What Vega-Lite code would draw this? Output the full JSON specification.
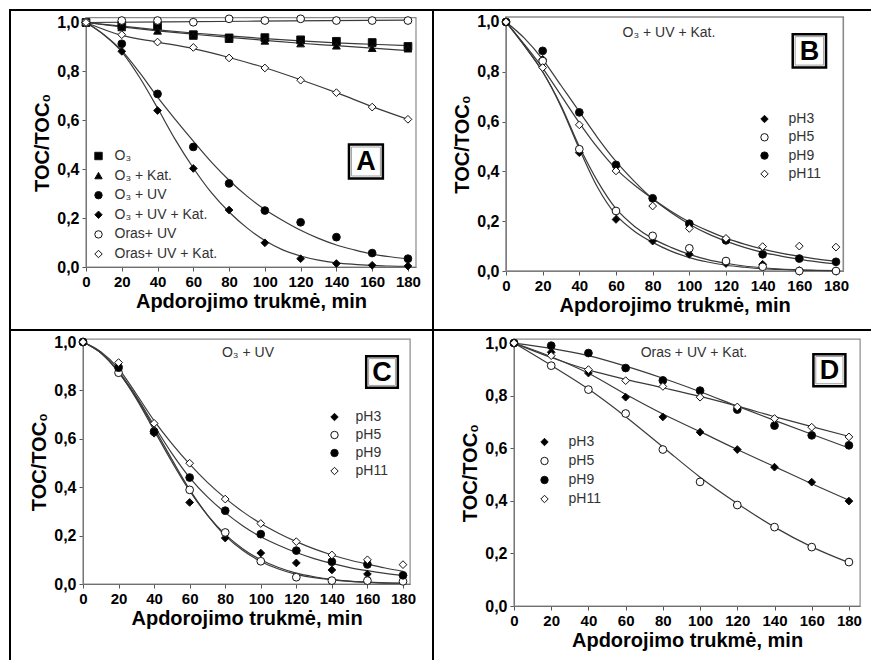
{
  "$schema": "https://vega.github.io/schema/vega-lite/v6.json",
  "padding": {"left": 9, "top": 9, "right": 0, "bottom": 0},
  "background": "white",
  "columns": 2,
  "spacing": 0,
  "bounds": "flush",
  "resolve": {"scale": {"shape": "independent", "fill": "independent", "stroke": "independent"}, "legend": {"shape": "independent", "fill": "independent", "stroke": "independent"}},
  "config": {
    "view": {"stroke": "#000", "strokeWidth": 2},
    "axis": {"grid": false, "domainColor": "#555", "tickColor": "#555", "tickSize": 4, "labelFont": "Liberation Sans", "labelFontWeight": "bold", "labelColor": "#000", "titleFont": "Liberation Sans", "titleFontWeight": "bold", "titleFontSize": 20, "titleColor": "#000", "zindex": 1, "labelFlush": false, "labelOverlap": false},
    "legend": {"labelFont": "Liberation Sans", "labelFontSize": 14, "labelColor": "#333", "padding": 0, "symbolStrokeWidth": 1, "symbolSize": 55}
  },
  "datasets": {
    "A_pts": [
      {"s":"O₃","t":0,"v":1},{"s":"O₃","t":20,"v":0.988},{"s":"O₃","t":40,"v":0.986},{"s":"O₃","t":60,"v":0.95},{"s":"O₃","t":80,"v":0.937},{"s":"O₃","t":100,"v":0.938},{"s":"O₃","t":120,"v":0.929},{"s":"O₃","t":140,"v":0.923},{"s":"O₃","t":160,"v":0.918},{"s":"O₃","t":180,"v":0.902},
      {"s":"O₃ + Kat.","t":0,"v":1},{"s":"O₃ + Kat.","t":20,"v":0.98},{"s":"O₃ + Kat.","t":40,"v":0.966},{"s":"O₃ + Kat.","t":60,"v":0.945},{"s":"O₃ + Kat.","t":80,"v":0.932},{"s":"O₃ + Kat.","t":100,"v":0.925},{"s":"O₃ + Kat.","t":120,"v":0.914},{"s":"O₃ + Kat.","t":140,"v":0.905},{"s":"O₃ + Kat.","t":160,"v":0.895},{"s":"O₃ + Kat.","t":180,"v":0.893},
      {"s":"O₃ + UV","t":0,"v":1},{"s":"O₃ + UV","t":20,"v":0.913},{"s":"O₃ + UV","t":40,"v":0.708},{"s":"O₃ + UV","t":60,"v":0.491},{"s":"O₃ + UV","t":80,"v":0.342},{"s":"O₃ + UV","t":100,"v":0.231},{"s":"O₃ + UV","t":120,"v":0.183},{"s":"O₃ + UV","t":140,"v":0.122},{"s":"O₃ + UV","t":160,"v":0.057},{"s":"O₃ + UV","t":180,"v":0.034},
      {"s":"O₃ + UV + Kat.","t":0,"v":1},{"s":"O₃ + UV + Kat.","t":20,"v":0.882},{"s":"O₃ + UV + Kat.","t":40,"v":0.64},{"s":"O₃ + UV + Kat.","t":60,"v":0.403},{"s":"O₃ + UV + Kat.","t":80,"v":0.233},{"s":"O₃ + UV + Kat.","t":100,"v":0.099},{"s":"O₃ + UV + Kat.","t":120,"v":0.034},{"s":"O₃ + UV + Kat.","t":140,"v":0.014},{"s":"O₃ + UV + Kat.","t":160,"v":0.007},{"s":"O₃ + UV + Kat.","t":180,"v":0.004},
      {"s":"Oras+ UV","t":0,"v":1},{"s":"Oras+ UV","t":20,"v":1.008},{"s":"Oras+ UV","t":40,"v":1.008},{"s":"Oras+ UV","t":60,"v":1.001},{"s":"Oras+ UV","t":80,"v":1.015},{"s":"Oras+ UV","t":100,"v":1.008},{"s":"Oras+ UV","t":120,"v":1.015},{"s":"Oras+ UV","t":140,"v":1.008},{"s":"Oras+ UV","t":160,"v":1.008},{"s":"Oras+ UV","t":180,"v":1.008},
      {"s":"Oras+ UV + Kat.","t":0,"v":1},{"s":"Oras+ UV + Kat.","t":20,"v":0.95},{"s":"Oras+ UV + Kat.","t":40,"v":0.92},{"s":"Oras+ UV + Kat.","t":60,"v":0.898},{"s":"Oras+ UV + Kat.","t":80,"v":0.855},{"s":"Oras+ UV + Kat.","t":100,"v":0.814},{"s":"Oras+ UV + Kat.","t":120,"v":0.764},{"s":"Oras+ UV + Kat.","t":140,"v":0.713},{"s":"Oras+ UV + Kat.","t":160,"v":0.654},{"s":"Oras+ UV + Kat.","t":180,"v":0.604}
    ],
    "A_fit": [
      {"s":"a1","t":0,"v":1},{"s":"a1","t":20,"v":0.985},{"s":"a1","t":40,"v":0.97},{"s":"a1","t":60,"v":0.957},{"s":"a1","t":80,"v":0.945},{"s":"a1","t":100,"v":0.934},{"s":"a1","t":120,"v":0.925},{"s":"a1","t":140,"v":0.917},{"s":"a1","t":160,"v":0.911},{"s":"a1","t":180,"v":0.905},
      {"s":"a2","t":0,"v":1},{"s":"a2","t":20,"v":0.982},{"s":"a2","t":40,"v":0.966},{"s":"a2","t":60,"v":0.952},{"s":"a2","t":80,"v":0.939},{"s":"a2","t":100,"v":0.927},{"s":"a2","t":120,"v":0.915},{"s":"a2","t":140,"v":0.905},{"s":"a2","t":160,"v":0.895},{"s":"a2","t":180,"v":0.885},
      {"s":"a3","t":0,"v":1},{"s":"a3","t":10,"v":0.95},{"s":"a3","t":20,"v":0.885},{"s":"a3","t":30,"v":0.795},{"s":"a3","t":40,"v":0.695},{"s":"a3","t":50,"v":0.603},{"s":"a3","t":60,"v":0.515},{"s":"a3","t":70,"v":0.43},{"s":"a3","t":80,"v":0.355},{"s":"a3","t":90,"v":0.29},{"s":"a3","t":100,"v":0.235},{"s":"a3","t":110,"v":0.19},{"s":"a3","t":120,"v":0.15},{"s":"a3","t":130,"v":0.117},{"s":"a3","t":140,"v":0.09},{"s":"a3","t":150,"v":0.07},{"s":"a3","t":160,"v":0.053},{"s":"a3","t":170,"v":0.042},{"s":"a3","t":180,"v":0.034},
      {"s":"a4","t":0,"v":1},{"s":"a4","t":10,"v":0.95},{"s":"a4","t":20,"v":0.88},{"s":"a4","t":30,"v":0.775},{"s":"a4","t":40,"v":0.65},{"s":"a4","t":50,"v":0.52},{"s":"a4","t":60,"v":0.405},{"s":"a4","t":70,"v":0.305},{"s":"a4","t":80,"v":0.225},{"s":"a4","t":90,"v":0.16},{"s":"a4","t":100,"v":0.108},{"s":"a4","t":110,"v":0.07},{"s":"a4","t":120,"v":0.045},{"s":"a4","t":130,"v":0.028},{"s":"a4","t":140,"v":0.017},{"s":"a4","t":150,"v":0.011},{"s":"a4","t":160,"v":0.007},{"s":"a4","t":170,"v":0.004},{"s":"a4","t":180,"v":0.003},
      {"s":"a5","t":0,"v":1},{"s":"a5","t":90,"v":1.005},{"s":"a5","t":180,"v":1.01},
      {"s":"a6","t":0,"v":1},{"s":"a6","t":20,"v":0.947},{"s":"a6","t":40,"v":0.92},{"s":"a6","t":60,"v":0.893},{"s":"a6","t":80,"v":0.857},{"s":"a6","t":100,"v":0.815},{"s":"a6","t":120,"v":0.766},{"s":"a6","t":140,"v":0.713},{"s":"a6","t":160,"v":0.656},{"s":"a6","t":180,"v":0.604}
    ],
    "B_pts": [
      {"s":"pH3","t":0,"v":1},{"s":"pH3","t":20,"v":0.85},{"s":"pH3","t":40,"v":0.475},{"s":"pH3","t":60,"v":0.207},{"s":"pH3","t":80,"v":0.12},{"s":"pH3","t":100,"v":0.067},{"s":"pH3","t":120,"v":0.03},{"s":"pH3","t":140,"v":0.027},{"s":"pH3","t":160,"v":0.002},{"s":"pH3","t":180,"v":0.001},
      {"s":"pH5","t":0,"v":1},{"s":"pH5","t":20,"v":0.843},{"s":"pH5","t":40,"v":0.489},{"s":"pH5","t":60,"v":0.241},{"s":"pH5","t":80,"v":0.141},{"s":"pH5","t":100,"v":0.091},{"s":"pH5","t":120,"v":0.04},{"s":"pH5","t":140,"v":0.017},{"s":"pH5","t":160,"v":0.0},{"s":"pH5","t":180,"v":0.0},
      {"s":"pH9","t":0,"v":1},{"s":"pH9","t":20,"v":0.884},{"s":"pH9","t":40,"v":0.637},{"s":"pH9","t":60,"v":0.426},{"s":"pH9","t":80,"v":0.292},{"s":"pH9","t":100,"v":0.19},{"s":"pH9","t":120,"v":0.123},{"s":"pH9","t":140,"v":0.067},{"s":"pH9","t":160,"v":0.05},{"s":"pH9","t":180,"v":0.037},
      {"s":"pH11","t":0,"v":1},{"s":"pH11","t":20,"v":0.817},{"s":"pH11","t":40,"v":0.587},{"s":"pH11","t":60,"v":0.402},{"s":"pH11","t":80,"v":0.261},{"s":"pH11","t":100,"v":0.171},{"s":"pH11","t":120,"v":0.131},{"s":"pH11","t":140,"v":0.098},{"s":"pH11","t":160,"v":0.1},{"s":"pH11","t":180,"v":0.096}
    ],
    "B_fit": [
      {"s":"b3","t":0,"v":1},{"s":"b3","t":10,"v":0.905},{"s":"b3","t":20,"v":0.8},{"s":"b3","t":30,"v":0.66},{"s":"b3","t":40,"v":0.49},{"s":"b3","t":50,"v":0.335},{"s":"b3","t":60,"v":0.225},{"s":"b3","t":70,"v":0.16},{"s":"b3","t":80,"v":0.115},{"s":"b3","t":90,"v":0.08},{"s":"b3","t":100,"v":0.054},{"s":"b3","t":110,"v":0.036},{"s":"b3","t":120,"v":0.023},{"s":"b3","t":130,"v":0.015},{"s":"b3","t":140,"v":0.009},{"s":"b3","t":150,"v":0.006},{"s":"b3","t":160,"v":0.003},{"s":"b3","t":170,"v":0.002},{"s":"b3","t":180,"v":0.001},
      {"s":"b5","t":0,"v":1},{"s":"b5","t":10,"v":0.905},{"s":"b5","t":20,"v":0.8},{"s":"b5","t":30,"v":0.665},{"s":"b5","t":40,"v":0.5},{"s":"b5","t":50,"v":0.36},{"s":"b5","t":60,"v":0.25},{"s":"b5","t":70,"v":0.18},{"s":"b5","t":80,"v":0.13},{"s":"b5","t":90,"v":0.095},{"s":"b5","t":100,"v":0.067},{"s":"b5","t":110,"v":0.046},{"s":"b5","t":120,"v":0.031},{"s":"b5","t":130,"v":0.02},{"s":"b5","t":140,"v":0.013},{"s":"b5","t":150,"v":0.008},{"s":"b5","t":160,"v":0.005},{"s":"b5","t":170,"v":0.003},{"s":"b5","t":180,"v":0.002},
      {"s":"b9","t":0,"v":1},{"s":"b9","t":10,"v":0.935},{"s":"b9","t":20,"v":0.85},{"s":"b9","t":30,"v":0.745},{"s":"b9","t":40,"v":0.64},{"s":"b9","t":50,"v":0.535},{"s":"b9","t":60,"v":0.44},{"s":"b9","t":70,"v":0.36},{"s":"b9","t":80,"v":0.29},{"s":"b9","t":90,"v":0.235},{"s":"b9","t":100,"v":0.188},{"s":"b9","t":110,"v":0.15},{"s":"b9","t":120,"v":0.12},{"s":"b9","t":130,"v":0.095},{"s":"b9","t":140,"v":0.075},{"s":"b9","t":150,"v":0.06},{"s":"b9","t":160,"v":0.047},{"s":"b9","t":170,"v":0.037},{"s":"b9","t":180,"v":0.029},
      {"s":"b11","t":0,"v":1},{"s":"b11","t":10,"v":0.91},{"s":"b11","t":20,"v":0.815},{"s":"b11","t":30,"v":0.705},{"s":"b11","t":40,"v":0.595},{"s":"b11","t":50,"v":0.495},{"s":"b11","t":60,"v":0.41},{"s":"b11","t":70,"v":0.345},{"s":"b11","t":80,"v":0.29},{"s":"b11","t":90,"v":0.24},{"s":"b11","t":100,"v":0.197},{"s":"b11","t":110,"v":0.162},{"s":"b11","t":120,"v":0.132},{"s":"b11","t":130,"v":0.108},{"s":"b11","t":140,"v":0.088},{"s":"b11","t":150,"v":0.072},{"s":"b11","t":160,"v":0.059},{"s":"b11","t":170,"v":0.048},{"s":"b11","t":180,"v":0.04}
    ],
    "C_pts": [
      {"s":"pH3","t":0,"v":1},{"s":"pH3","t":20,"v":0.9},{"s":"pH3","t":40,"v":0.623},{"s":"pH3","t":60,"v":0.337},{"s":"pH3","t":80,"v":0.19},{"s":"pH3","t":100,"v":0.128},{"s":"pH3","t":120,"v":0.087},{"s":"pH3","t":140,"v":0.058},{"s":"pH3","t":160,"v":0.041},{"s":"pH3","t":180,"v":0.034},
      {"s":"pH5","t":0,"v":1},{"s":"pH5","t":20,"v":0.873},{"s":"pH5","t":40,"v":0.63},{"s":"pH5","t":60,"v":0.389},{"s":"pH5","t":80,"v":0.213},{"s":"pH5","t":100,"v":0.094},{"s":"pH5","t":120,"v":0.028},{"s":"pH5","t":140,"v":0.014},{"s":"pH5","t":160,"v":0.014},{"s":"pH5","t":180,"v":0.011},
      {"s":"pH9","t":0,"v":1},{"s":"pH9","t":20,"v":0.894},{"s":"pH9","t":40,"v":0.629},{"s":"pH9","t":60,"v":0.44},{"s":"pH9","t":80,"v":0.303},{"s":"pH9","t":100,"v":0.206},{"s":"pH9","t":120,"v":0.138},{"s":"pH9","t":140,"v":0.092},{"s":"pH9","t":160,"v":0.081},{"s":"pH9","t":180,"v":0.036},
      {"s":"pH11","t":0,"v":1},{"s":"pH11","t":20,"v":0.915},{"s":"pH11","t":40,"v":0.664},{"s":"pH11","t":60,"v":0.499},{"s":"pH11","t":80,"v":0.351},{"s":"pH11","t":100,"v":0.25},{"s":"pH11","t":120,"v":0.175},{"s":"pH11","t":140,"v":0.12},{"s":"pH11","t":160,"v":0.1},{"s":"pH11","t":180,"v":0.08}
    ],
    "C_fit": [
      {"s":"c3","t":0,"v":1},{"s":"c3","t":10,"v":0.955},{"s":"c3","t":20,"v":0.875},{"s":"c3","t":30,"v":0.77},{"s":"c3","t":40,"v":0.645},{"s":"c3","t":50,"v":0.515},{"s":"c3","t":60,"v":0.39},{"s":"c3","t":70,"v":0.285},{"s":"c3","t":80,"v":0.2},{"s":"c3","t":90,"v":0.138},{"s":"c3","t":100,"v":0.093},{"s":"c3","t":110,"v":0.062},{"s":"c3","t":120,"v":0.04},{"s":"c3","t":130,"v":0.026},{"s":"c3","t":140,"v":0.017},{"s":"c3","t":150,"v":0.011},{"s":"c3","t":160,"v":0.007},{"s":"c3","t":170,"v":0.004},{"s":"c3","t":180,"v":0.003},
      {"s":"c5","t":0,"v":1},{"s":"c5","t":10,"v":0.955},{"s":"c5","t":20,"v":0.875},{"s":"c5","t":30,"v":0.765},{"s":"c5","t":40,"v":0.635},{"s":"c5","t":50,"v":0.505},{"s":"c5","t":60,"v":0.385},{"s":"c5","t":70,"v":0.285},{"s":"c5","t":80,"v":0.205},{"s":"c5","t":90,"v":0.145},{"s":"c5","t":100,"v":0.1},{"s":"c5","t":110,"v":0.068},{"s":"c5","t":120,"v":0.045},{"s":"c5","t":130,"v":0.03},{"s":"c5","t":140,"v":0.019},{"s":"c5","t":150,"v":0.012},{"s":"c5","t":160,"v":0.008},{"s":"c5","t":170,"v":0.005},{"s":"c5","t":180,"v":0.003},
      {"s":"c9","t":0,"v":1},{"s":"c9","t":10,"v":0.955},{"s":"c9","t":20,"v":0.88},{"s":"c9","t":30,"v":0.775},{"s":"c9","t":40,"v":0.655},{"s":"c9","t":50,"v":0.54},{"s":"c9","t":60,"v":0.44},{"s":"c9","t":70,"v":0.36},{"s":"c9","t":80,"v":0.295},{"s":"c9","t":90,"v":0.24},{"s":"c9","t":100,"v":0.195},{"s":"c9","t":110,"v":0.16},{"s":"c9","t":120,"v":0.13},{"s":"c9","t":130,"v":0.105},{"s":"c9","t":140,"v":0.085},{"s":"c9","t":150,"v":0.068},{"s":"c9","t":160,"v":0.055},{"s":"c9","t":170,"v":0.044},{"s":"c9","t":180,"v":0.035},
      {"s":"c11","t":0,"v":1},{"s":"c11","t":10,"v":0.96},{"s":"c11","t":20,"v":0.89},{"s":"c11","t":30,"v":0.785},{"s":"c11","t":40,"v":0.675},{"s":"c11","t":50,"v":0.58},{"s":"c11","t":60,"v":0.495},{"s":"c11","t":70,"v":0.42},{"s":"c11","t":80,"v":0.355},{"s":"c11","t":90,"v":0.298},{"s":"c11","t":100,"v":0.25},{"s":"c11","t":110,"v":0.21},{"s":"c11","t":120,"v":0.175},{"s":"c11","t":130,"v":0.145},{"s":"c11","t":140,"v":0.12},{"s":"c11","t":150,"v":0.099},{"s":"c11","t":160,"v":0.082},{"s":"c11","t":170,"v":0.066},{"s":"c11","t":180,"v":0.052}
    ],
    "D_pts": [
      {"s":"pH3","t":0,"v":1},{"s":"pH3","t":20,"v":0.965},{"s":"pH3","t":40,"v":0.886},{"s":"pH3","t":60,"v":0.794},{"s":"pH3","t":80,"v":0.719},{"s":"pH3","t":100,"v":0.661},{"s":"pH3","t":120,"v":0.595},{"s":"pH3","t":140,"v":0.528},{"s":"pH3","t":160,"v":0.471},{"s":"pH3","t":180,"v":0.399},
      {"s":"pH5","t":0,"v":1},{"s":"pH5","t":20,"v":0.914},{"s":"pH5","t":40,"v":0.823},{"s":"pH5","t":60,"v":0.732},{"s":"pH5","t":80,"v":0.595},{"s":"pH5","t":100,"v":0.472},{"s":"pH5","t":120,"v":0.384},{"s":"pH5","t":140,"v":0.3},{"s":"pH5","t":160,"v":0.224},{"s":"pH5","t":180,"v":0.167},
      {"s":"pH9","t":0,"v":1},{"s":"pH9","t":20,"v":0.99},{"s":"pH9","t":40,"v":0.962},{"s":"pH9","t":60,"v":0.905},{"s":"pH9","t":80,"v":0.858},{"s":"pH9","t":100,"v":0.819},{"s":"pH9","t":120,"v":0.747},{"s":"pH9","t":140,"v":0.686},{"s":"pH9","t":160,"v":0.649},{"s":"pH9","t":180,"v":0.611},
      {"s":"pH11","t":0,"v":1},{"s":"pH11","t":20,"v":0.952},{"s":"pH11","t":40,"v":0.899},{"s":"pH11","t":60,"v":0.857},{"s":"pH11","t":80,"v":0.835},{"s":"pH11","t":100,"v":0.794},{"s":"pH11","t":120,"v":0.757},{"s":"pH11","t":140,"v":0.713},{"s":"pH11","t":160,"v":0.68},{"s":"pH11","t":180,"v":0.643}
    ],
    "D_fit": [
      {"s":"d3","t":0,"v":1},{"s":"d3","t":20,"v":0.948},{"s":"d3","t":40,"v":0.885},{"s":"d3","t":60,"v":0.805},{"s":"d3","t":80,"v":0.73},{"s":"d3","t":100,"v":0.663},{"s":"d3","t":120,"v":0.595},{"s":"d3","t":140,"v":0.53},{"s":"d3","t":160,"v":0.465},{"s":"d3","t":180,"v":0.402},
      {"s":"d5","t":0,"v":1},{"s":"d5","t":20,"v":0.915},{"s":"d5","t":40,"v":0.825},{"s":"d5","t":60,"v":0.72},{"s":"d5","t":80,"v":0.605},{"s":"d5","t":100,"v":0.49},{"s":"d5","t":120,"v":0.39},{"s":"d5","t":140,"v":0.3},{"s":"d5","t":160,"v":0.225},{"s":"d5","t":180,"v":0.165},
      {"s":"d9","t":0,"v":1},{"s":"d9","t":20,"v":0.98},{"s":"d9","t":40,"v":0.952},{"s":"d9","t":60,"v":0.912},{"s":"d9","t":80,"v":0.866},{"s":"d9","t":100,"v":0.815},{"s":"d9","t":120,"v":0.76},{"s":"d9","t":140,"v":0.706},{"s":"d9","t":160,"v":0.653},{"s":"d9","t":180,"v":0.601},
      {"s":"d11","t":0,"v":1},{"s":"d11","t":20,"v":0.945},{"s":"d11","t":40,"v":0.898},{"s":"d11","t":60,"v":0.862},{"s":"d11","t":80,"v":0.83},{"s":"d11","t":100,"v":0.797},{"s":"d11","t":120,"v":0.76},{"s":"d11","t":140,"v":0.72},{"s":"d11","t":160,"v":0.682},{"s":"d11","t":180,"v":0.645}
    ]
  },
  "concat": [
    {
      "width": 423, "height": 320,
      "layer": [
        {"data": {"values": [{}]}, "mark": {"type": "rect", "fill": "white", "fillOpacity": 0, "stroke": "#8a8a8a", "strokeWidth": 1.2},
         "encoding": {
           "x": {"datum": 0, "type": "quantitative", "scale": {"domain": [0, 184.5], "range": [76, 406], "nice": false, "zero": false},
                 "axis": {"title": "Apdorojimo trukmė, min", "values": [0,20,40,60,80,100,120,140,160,180], "offset": -63, "labelFontSize": 15, "labelPadding": 3, "titlePadding": 2}},
           "x2": {"datum": 184.5},
           "y": {"datum": 0, "type": "quantitative", "scale": {"domain": [0, 1.02], "range": [257, 7.6], "nice": false, "zero": false},
                 "axis": {"title": "TOC/TOC₀", "values": [0,0.2,0.4,0.6,0.8,1], "offset": -76, "labelExpr": "replace(format(datum.value, '.1f'), '.', ',')", "labelFontSize": 16, "labelPadding": 3, "titlePadding": 4}},
           "y2": {"datum": 1.02}
         }},
        {"data": {"name": "A_fit"}, "mark": {"type": "line", "interpolate": "monotone", "color": "#3a3a3a", "strokeWidth": 1.2},
         "encoding": {"x": {"field": "t", "type": "quantitative"}, "y": {"field": "v", "type": "quantitative"}, "detail": {"field": "s", "type": "nominal"}}},
        {"data": {"name": "A_pts"}, "mark": {"type": "point", "filled": true, "strokeWidth": 1, "size": 60, "opacity": 1},
         "encoding": {
           "x": {"field": "t", "type": "quantitative"}, "y": {"field": "v", "type": "quantitative"},
           "shape": {"field": "s", "type": "nominal", "scale": {"domain": ["O₃","O₃ + Kat.","O₃ + UV","O₃ + UV + Kat.","Oras+ UV","Oras+ UV + Kat."], "range": ["square","triangle-up","circle","diamond","circle","diamond"]},
                     "legend": {"title": null, "orient": "none", "legendX": 81.5, "legendY": 139, "rowPadding": 5.6, "labelOffset": 9}},
           "fill": {"field": "s", "type": "nominal", "scale": {"domain": ["O₃","O₃ + Kat.","O₃ + UV","O₃ + UV + Kat.","Oras+ UV","Oras+ UV + Kat."], "range": ["#000","#000","#000","#000","#fff","#fff"]},
                    "legend": {"title": null, "orient": "none", "legendX": 81.5, "legendY": 139, "rowPadding": 5.6, "labelOffset": 9}},
           "stroke": {"field": "s", "type": "nominal", "scale": {"domain": ["O₃","O₃ + Kat.","O₃ + UV","O₃ + UV + Kat.","Oras+ UV","Oras+ UV + Kat."], "range": ["#111","#111","#111","#111","#111","#111"]},
                    "legend": {"title": null, "orient": "none", "legendX": 81.5, "legendY": 139, "rowPadding": 5.6, "labelOffset": 9}}
         }},
        {"data": {"values": [{}]}, "mark": {"type": "point", "shape": "square", "size": 1150, "filled": true, "fill": "white", "stroke": "#000", "strokeWidth": 2.5, "opacity": 1},
         "encoding": {"x": {"datum": 156.5, "type": "quantitative"}, "y": {"datum": 0.4315, "type": "quantitative"}}},
        {"data": {"values": [{}]}, "mark": {"type": "point", "shape": "square", "size": 841, "filled": false, "stroke": "#a0a0a0", "strokeWidth": 1, "opacity": 1},
         "encoding": {"x": {"datum": 156.5, "type": "quantitative"}, "y": {"datum": 0.4315, "type": "quantitative"}}},
        {"data": {"values": [{}]}, "mark": {"type": "text", "text": "A", "font": "Liberation Sans", "fontSize": 27, "fontWeight": "bold", "align": "center", "baseline": "middle", "dy": 1, "color": "#000"},
         "encoding": {"x": {"datum": 156.5, "type": "quantitative"}, "y": {"datum": 0.4315, "type": "quantitative"}}}
      ]
    },
    {
      "width": 445, "height": 320,
      "layer": [
        {"data": {"values": [{}]}, "mark": {"type": "rect", "fill": "white", "fillOpacity": 0, "stroke": "#8a8a8a", "strokeWidth": 1.6},
         "encoding": {
           "x": {"datum": 0, "type": "quantitative", "scale": {"domain": [0, 184], "range": [73, 410.3], "nice": false, "zero": false},
                 "axis": {"title": "Apdorojimo trukmė, min", "values": [0,20,40,60,80,100,120,140,160,180], "offset": -59, "labelFontSize": 15, "labelPadding": 3, "titlePadding": 2}},
           "x2": {"datum": 184},
           "y": {"datum": 0, "type": "quantitative", "scale": {"domain": [0, 1.02], "range": [261, 7], "nice": false, "zero": false},
                 "axis": {"title": "TOC/TOC₀", "values": [0,0.2,0.4,0.6,0.8,1], "offset": -73, "labelExpr": "replace(format(datum.value, '.1f'), '.', ',')", "labelFontSize": 16, "labelPadding": 3, "titlePadding": 4}},
           "y2": {"datum": 1.02}
         }},
        {"data": {"name": "B_fit"}, "mark": {"type": "line", "interpolate": "monotone", "color": "#3a3a3a", "strokeWidth": 1.2},
         "encoding": {"x": {"field": "t", "type": "quantitative"}, "y": {"field": "v", "type": "quantitative"}, "detail": {"field": "s", "type": "nominal"}}},
        {"data": {"name": "B_pts"}, "mark": {"type": "point", "filled": true, "strokeWidth": 1, "size": 60, "opacity": 1},
         "encoding": {
           "x": {"field": "t", "type": "quantitative"}, "y": {"field": "v", "type": "quantitative"},
           "shape": {"field": "s", "type": "nominal", "scale": {"domain": ["pH3","pH5","pH9","pH11"], "range": ["diamond","circle","circle","diamond"]},
                     "legend": {"title": null, "orient": "none", "legendX": 324.5, "legendY": 102, "rowPadding": 4.3, "labelOffset": 17}},
           "fill": {"field": "s", "type": "nominal", "scale": {"domain": ["pH3","pH5","pH9","pH11"], "range": ["#000","#fff","#000","#fff"]},
                    "legend": {"title": null, "orient": "none", "legendX": 324.5, "legendY": 102, "rowPadding": 4.3, "labelOffset": 17}},
           "stroke": {"field": "s", "type": "nominal", "scale": {"domain": ["pH3","pH5","pH9","pH11"], "range": ["#111","#111","#111","#111"]},
                    "legend": {"title": null, "orient": "none", "legendX": 324.5, "legendY": 102, "rowPadding": 4.3, "labelOffset": 17}}
         }},
        {"data": {"values": [{}]}, "mark": {"type": "text", "text": "O₃ + UV + Kat.", "font": "Liberation Sans", "fontSize": 14, "align": "center", "baseline": "middle", "color": "#333"},
         "encoding": {"x": {"datum": 88.9, "type": "quantitative"}, "y": {"datum": 0.956, "type": "quantitative"}}},
        {"data": {"values": [{}]}, "mark": {"type": "point", "shape": "square", "size": 1110, "filled": true, "fill": "white", "stroke": "#000", "strokeWidth": 2.5, "opacity": 1},
         "encoding": {"x": {"datum": 165.5, "type": "quantitative"}, "y": {"datum": 0.884, "type": "quantitative"}}},
        {"data": {"values": [{}]}, "mark": {"type": "point", "shape": "square", "size": 810, "filled": false, "stroke": "#a0a0a0", "strokeWidth": 1, "opacity": 1},
         "encoding": {"x": {"datum": 165.5, "type": "quantitative"}, "y": {"datum": 0.884, "type": "quantitative"}}},
        {"data": {"values": [{}]}, "mark": {"type": "text", "text": "B", "font": "Liberation Sans", "fontSize": 27, "fontWeight": "bold", "align": "center", "baseline": "middle", "dy": 1, "color": "#000"},
         "encoding": {"x": {"datum": 165.5, "type": "quantitative"}, "y": {"datum": 0.884, "type": "quantitative"}}}
      ]
    },
    {
      "width": 423, "height": 335,
      "layer": [
        {"data": {"values": [{}]}, "mark": {"type": "rect", "fill": "white", "fillOpacity": 0, "stroke": "#8a8a8a", "strokeWidth": 1.2},
         "encoding": {
           "x": {"datum": 0, "type": "quantitative", "scale": {"domain": [0, 184], "range": [73, 400.1], "nice": false, "zero": false},
                 "axis": {"title": "Apdorojimo trukmė, min", "values": [0,20,40,60,80,100,120,140,160,180], "offset": -81, "labelFontSize": 15, "labelPadding": 3, "titlePadding": 2}},
           "x2": {"datum": 184},
           "y": {"datum": 0, "type": "quantitative", "scale": {"domain": [0, 1.012], "range": [254, 9.1], "nice": false, "zero": false},
                 "axis": {"title": "TOC/TOC₀", "values": [0,0.2,0.4,0.6,0.8,1], "offset": -73, "labelExpr": "replace(format(datum.value, '.1f'), '.', ',')", "labelFontSize": 16, "labelPadding": 3, "titlePadding": 4}},
           "y2": {"datum": 1.012}
         }},
        {"data": {"name": "C_fit"}, "mark": {"type": "line", "interpolate": "monotone", "color": "#3a3a3a", "strokeWidth": 1.2},
         "encoding": {"x": {"field": "t", "type": "quantitative"}, "y": {"field": "v", "type": "quantitative"}, "detail": {"field": "s", "type": "nominal"}}},
        {"data": {"name": "C_pts"}, "mark": {"type": "point", "filled": true, "strokeWidth": 1, "size": 60, "opacity": 1},
         "encoding": {
           "x": {"field": "t", "type": "quantitative"}, "y": {"field": "v", "type": "quantitative"},
           "shape": {"field": "s", "type": "nominal", "scale": {"domain": ["pH3","pH5","pH9","pH11"], "range": ["diamond","circle","circle","diamond"]},
                     "legend": {"title": null, "orient": "none", "legendX": 317.5, "legendY": 80, "rowPadding": 4, "labelOffset": 14}},
           "fill": {"field": "s", "type": "nominal", "scale": {"domain": ["pH3","pH5","pH9","pH11"], "range": ["#000","#fff","#000","#fff"]},
                    "legend": {"title": null, "orient": "none", "legendX": 317.5, "legendY": 80, "rowPadding": 4, "labelOffset": 14}},
           "stroke": {"field": "s", "type": "nominal", "scale": {"domain": ["pH3","pH5","pH9","pH11"], "range": ["#111","#111","#111","#111"]},
                    "legend": {"title": null, "orient": "none", "legendX": 317.5, "legendY": 80, "rowPadding": 4, "labelOffset": 14}}
         }},
        {"data": {"values": [{}]}, "mark": {"type": "text", "text": "O₃ + UV", "font": "Liberation Sans", "fontSize": 14, "align": "center", "baseline": "middle", "color": "#333"},
         "encoding": {"x": {"datum": 92.8, "type": "quantitative"}, "y": {"datum": 0.955, "type": "quantitative"}}},
        {"data": {"values": [{}]}, "mark": {"type": "point", "shape": "square", "size": 1000, "filled": true, "fill": "white", "stroke": "#000", "strokeWidth": 2.5, "opacity": 1},
         "encoding": {"x": {"datum": 168.2, "type": "quantitative"}, "y": {"datum": 0.876, "type": "quantitative"}}},
        {"data": {"values": [{}]}, "mark": {"type": "point", "shape": "square", "size": 720, "filled": false, "stroke": "#a0a0a0", "strokeWidth": 1, "opacity": 1},
         "encoding": {"x": {"datum": 168.2, "type": "quantitative"}, "y": {"datum": 0.876, "type": "quantitative"}}},
        {"data": {"values": [{}]}, "mark": {"type": "text", "text": "C", "font": "Liberation Sans", "fontSize": 27, "fontWeight": "bold", "align": "center", "baseline": "middle", "dy": 1, "color": "#000"},
         "encoding": {"x": {"datum": 168.2, "type": "quantitative"}, "y": {"datum": 0.876, "type": "quantitative"}}}
      ]
    },
    {
      "width": 445, "height": 335,
      "layer": [
        {"data": {"values": [{}]}, "mark": {"type": "rect", "fill": "white", "fillOpacity": 0, "stroke": "#8a8a8a", "strokeWidth": 1.2},
         "encoding": {
           "x": {"datum": 0, "type": "quantitative", "scale": {"domain": [0, 186], "range": [81, 427.1], "nice": false, "zero": false},
                 "axis": {"title": "Apdorojimo trukmė, min", "values": [0,20,40,60,80,100,120,140,160,180], "offset": -59, "labelFontSize": 15, "labelPadding": 3, "titlePadding": 2}},
           "x2": {"datum": 186},
           "y": {"datum": 0, "type": "quantitative", "scale": {"domain": [0, 1.015], "range": [276, 9.1], "nice": false, "zero": false},
                 "axis": {"title": "TOC/TOC₀", "values": [0,0.2,0.4,0.6,0.8,1], "offset": -81, "labelExpr": "replace(format(datum.value, '.1f'), '.', ',')", "labelFontSize": 16, "labelPadding": 3, "titlePadding": 4}},
           "y2": {"datum": 1.015}
         }},
        {"data": {"name": "D_fit"}, "mark": {"type": "line", "interpolate": "monotone", "color": "#3a3a3a", "strokeWidth": 1.2},
         "encoding": {"x": {"field": "t", "type": "quantitative"}, "y": {"field": "v", "type": "quantitative"}, "detail": {"field": "s", "type": "nominal"}}},
        {"data": {"name": "D_pts"}, "mark": {"type": "point", "filled": true, "strokeWidth": 1, "size": 60, "opacity": 1},
         "encoding": {
           "x": {"field": "t", "type": "quantitative"}, "y": {"field": "v", "type": "quantitative"},
           "shape": {"field": "s", "type": "nominal", "scale": {"domain": ["pH3","pH5","pH9","pH11"], "range": ["diamond","circle","circle","diamond"]},
                     "legend": {"title": null, "orient": "none", "legendX": 104.5, "legendY": 105, "rowPadding": 5, "labelOffset": 17}},
           "fill": {"field": "s", "type": "nominal", "scale": {"domain": ["pH3","pH5","pH9","pH11"], "range": ["#000","#fff","#000","#fff"]},
                    "legend": {"title": null, "orient": "none", "legendX": 104.5, "legendY": 105, "rowPadding": 5, "labelOffset": 17}},
           "stroke": {"field": "s", "type": "nominal", "scale": {"domain": ["pH3","pH5","pH9","pH11"], "range": ["#111","#111","#111","#111"]},
                    "legend": {"title": null, "orient": "none", "legendX": 104.5, "legendY": 105, "rowPadding": 5, "labelOffset": 17}}
         }},
        {"data": {"values": [{}]}, "mark": {"type": "text", "text": "Oras + UV + Kat.", "font": "Liberation Sans", "fontSize": 14, "align": "center", "baseline": "middle", "color": "#333"},
         "encoding": {"x": {"datum": 96.7, "type": "quantitative"}, "y": {"datum": 0.962, "type": "quantitative"}}},
        {"data": {"values": [{}]}, "mark": {"type": "point", "shape": "square", "size": 1024, "filled": true, "fill": "white", "stroke": "#000", "strokeWidth": 2.5, "opacity": 1},
         "encoding": {"x": {"datum": 169.5, "type": "quantitative"}, "y": {"datum": 0.897, "type": "quantitative"}}},
        {"data": {"values": [{}]}, "mark": {"type": "point", "shape": "square", "size": 740, "filled": false, "stroke": "#a0a0a0", "strokeWidth": 1, "opacity": 1},
         "encoding": {"x": {"datum": 169.5, "type": "quantitative"}, "y": {"datum": 0.897, "type": "quantitative"}}},
        {"data": {"values": [{}]}, "mark": {"type": "text", "text": "D", "font": "Liberation Sans", "fontSize": 27, "fontWeight": "bold", "align": "center", "baseline": "middle", "dy": 1, "color": "#000"},
         "encoding": {"x": {"datum": 169.5, "type": "quantitative"}, "y": {"datum": 0.897, "type": "quantitative"}}}
      ]
    }
  ]
}
